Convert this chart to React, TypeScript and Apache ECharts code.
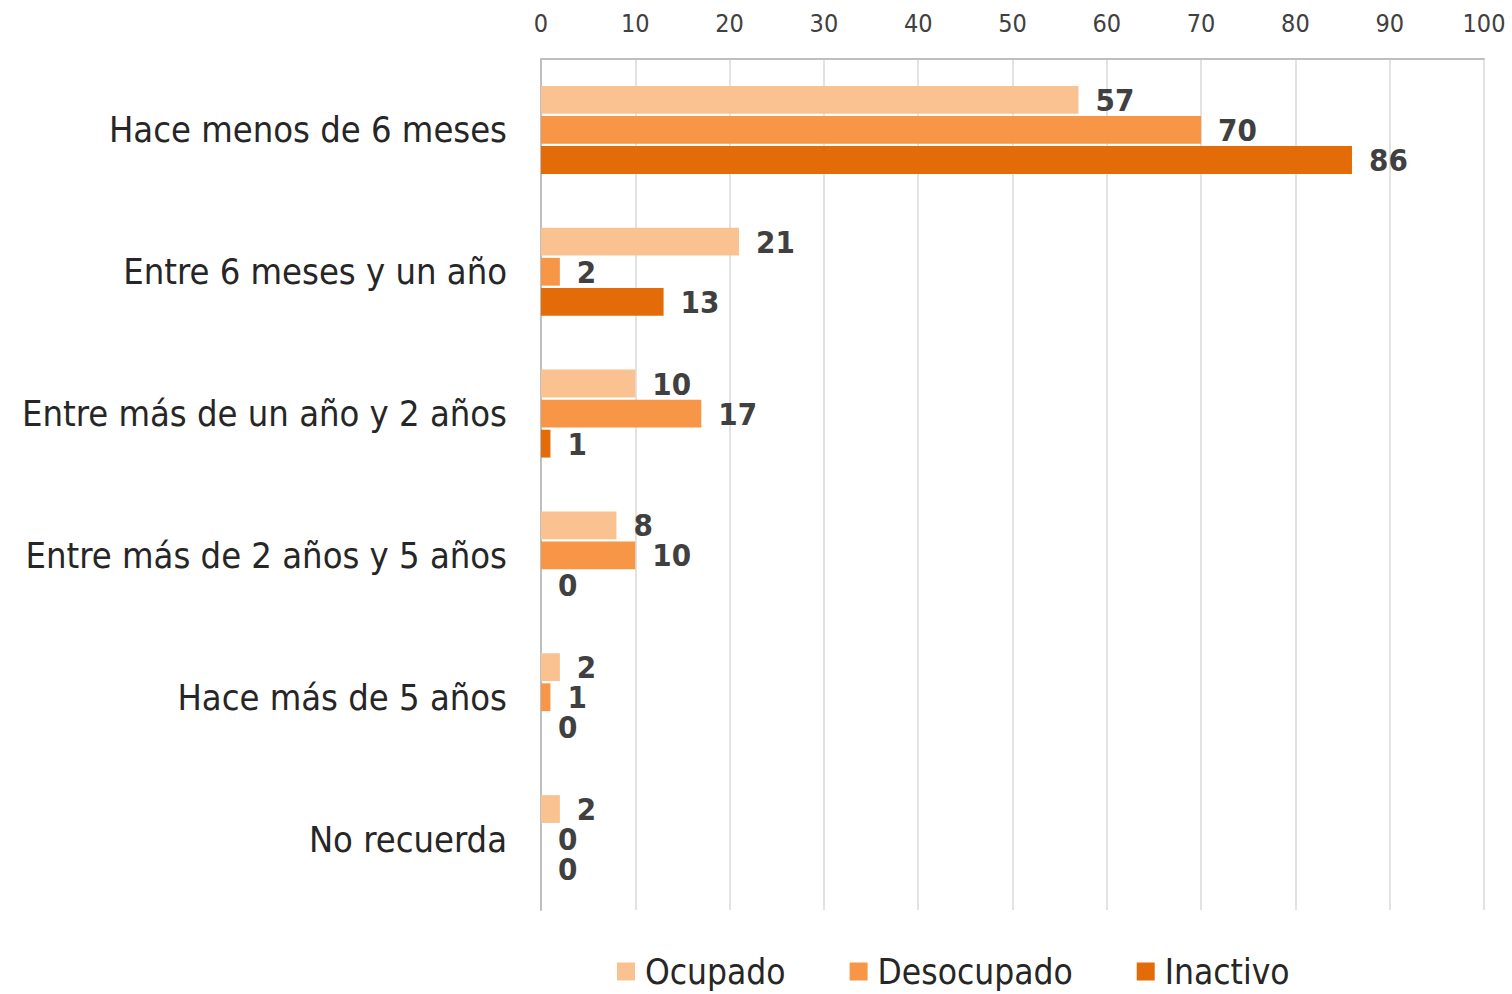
import React, { useEffect, useRef } from "react";
import * as echarts from "echarts";

const categories = [
  "Hace menos de 6 meses",
  "Entre 6 meses y un año",
  "Entre más de un año y 2 años",
  "Entre más de 2 años y 5 años",
  "Hace más de 5 años",
  "No recuerda",
];
const seriesNames = ["Ocupado", "Desocupado", "Inactivo"];
const ocupado = [57, 21, 10, 8, 2, 2];
const desocupado = [70, 2, 17, 10, 1, 0];
const inactivo = [86, 13, 1, 0, 0, 0];
const colors = ["#FAC290", "#F79646", "#E36C09"];

export default function App() {
  const ref = useRef<HTMLDivElement>(null);
  useEffect(() => {
    const chart = echarts.init(ref.current!, null, { renderer: "svg" });
    const narrow = "'DejaVu Sans Condensed', 'DejaVu Sans', sans-serif";
    const data = [ocupado, desocupado, inactivo];
    chart.setOption({
      animation: false,
      textStyle: { fontFamily: narrow },
      grid: { left: 541, right: 28, top: 59, bottom: 84, outerBoundsMode: "none", containLabel: false },
      legend: {
        bottom: 0,
        left: 612,
        itemWidth: 18,
        itemHeight: 18,
        itemGap: 64,
        icon: "rect",
        textStyle: { fontSize: 35, color: "#262626", fontFamily: narrow, padding: [0, 0, 0, 5] },
        data: seriesNames,
      },
      xAxis: {
        type: "value",
        position: "top",
        min: 0,
        max: 100,
        interval: 10,
        axisLine: { show: true, lineStyle: { color: "#BFBFBF", width: 2 } },
        axisTick: { show: false },
        axisLabel: { fontSize: 25, color: "#404040", margin: 23, fontFamily: narrow },
        splitLine: { show: true, lineStyle: { color: "#D9D9D9", width: 1.5 } },
      },
      yAxis: {
        type: "category",
        inverse: true,
        data: categories,
        axisLine: { show: true, lineStyle: { color: "#BFBFBF", width: 2 } },
        axisTick: { show: false },
        axisLabel: { fontSize: 36, color: "#262626", margin: 34, fontFamily: narrow },
      },
      series: seriesNames.map((name, i) => ({
        name,
        type: "bar",
        data: data[i],
        itemStyle: { color: colors[i] },
        barGap: "8%",
        barCategoryGap: "38%",
        label: {
          show: true,
          position: "right",
          distance: 17,
          fontSize: 31,
          lineHeight: 29,
          fontWeight: "bold",
          color: "#404040",
          fontFamily: narrow,
        },
      })),
    });
    return () => chart.dispose();
  }, []);
  return <div ref={ref} style={{ width: 1512, height: 994, position: "absolute", left: 0, top: 0 }} />;
}
